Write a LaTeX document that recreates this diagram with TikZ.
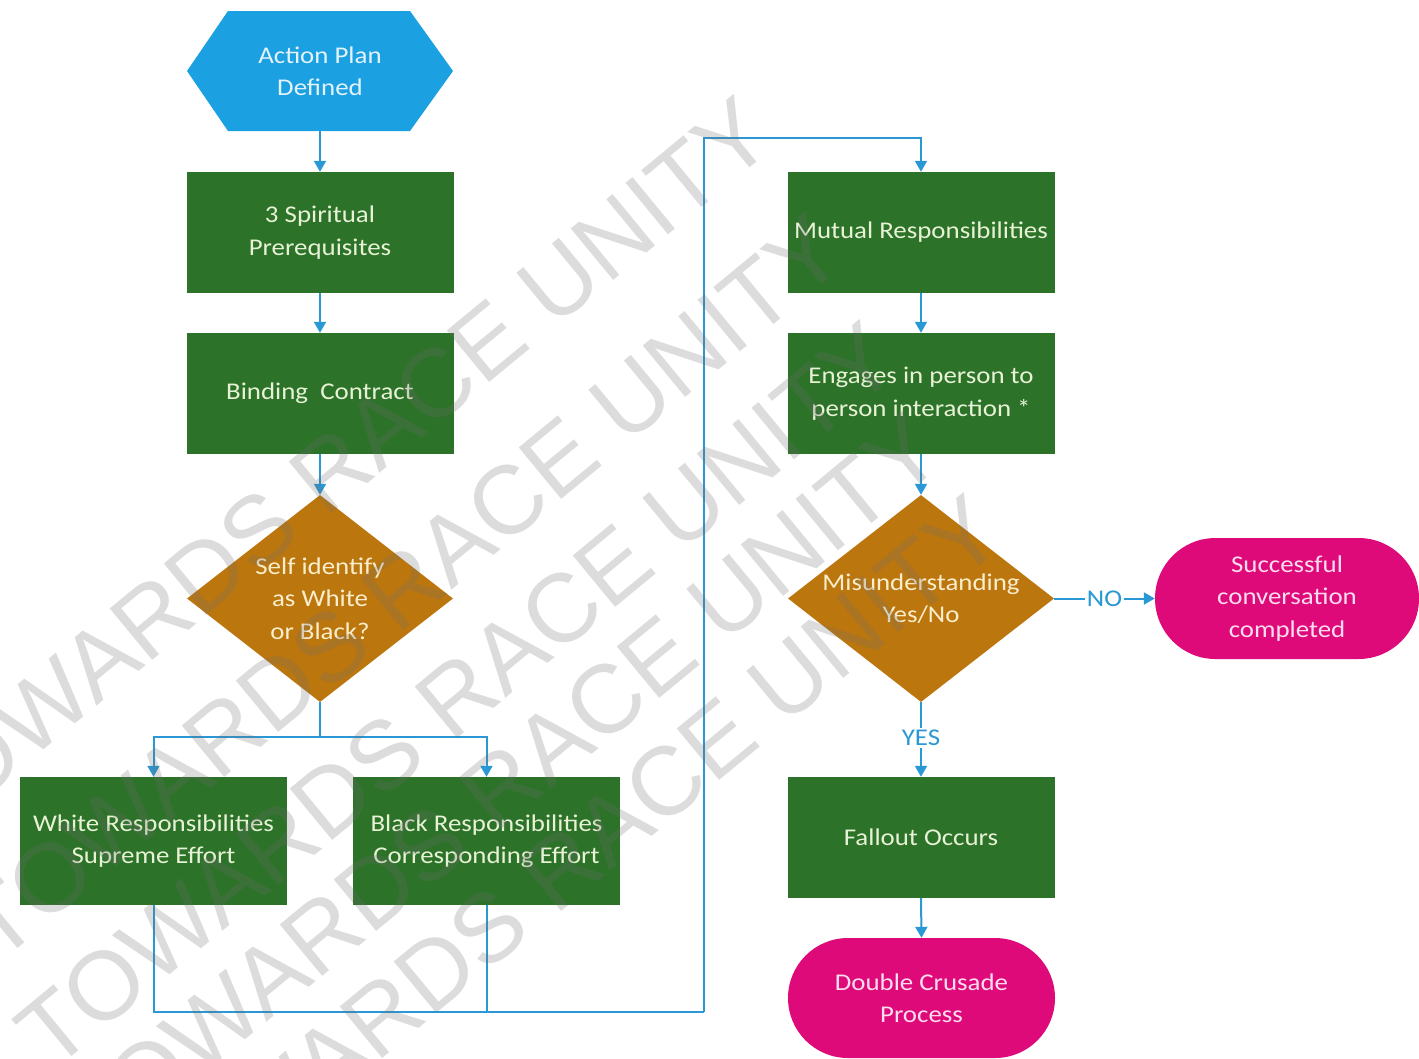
\documentclass[tikz,border=0pt]{standalone}
\usepackage{fontspec}
\setmainfont{Carlito}[FakeStretch=1.12]
\newfontfamily\wmfont{Liberation Sans}
\usetikzlibrary{shapes.geometric,shapes.misc,arrows.meta}
\definecolor{boxgreen}{RGB}{44,114,41}
\definecolor{decor}{RGB}{188,118,14}
\definecolor{hexblue}{RGB}{27,160,225}
\definecolor{pillcol}{RGB}{222,10,122}
\definecolor{conncol}{RGB}{42,152,212}
\definecolor{txtgreen}{RGB}{232,242,214}
\definecolor{txtdec}{RGB}{250,238,205}
\definecolor{txthex}{RGB}{228,242,252}
\definecolor{txtpill}{RGB}{252,220,238}
\definecolor{wmcol}{RGB}{110,110,110}
\begin{document}
\begin{tikzpicture}[x=1pt,y=-1pt,
  every node/.style={font=\fontsize{24}{32.5}\selectfont},
  proc/.style={rectangle, fill=boxgreen, minimum width=267pt, minimum height=121pt, inner sep=0pt, align=center, text=txtgreen},
  decshape/.style={diamond, fill=decor, minimum width=266pt, minimum height=207pt, inner sep=0pt},
  dectext/.style={align=center, text=txtdec, inner sep=0pt},
  term/.style={rounded rectangle, fill=pillcol, minimum width=264pt, minimum height=121pt, inner sep=0pt, align=center, text=txtpill},
  conn/.style={draw=conncol, line width=2pt},
  arr/.style={conn, -{Triangle[width=12pt,length=11pt]}},
  lbl/.style={text=conncol, fill=white, inner sep=2pt},
  wmark/.style={font=\wmfont\fontsize{97}{97}\selectfont, text=wmcol, text opacity=0.24, rotate=39.5, inner sep=0pt}
]
\useasboundingbox (0,0) rectangle (1419,1058);
\fill[white] (0,0) rectangle (1419,1058);

% start hexagon
\fill[hexblue] (187,71) -- (228,11) -- (410,11) -- (453,71) -- (410,131) -- (228,131) -- cycle;
\node[minimum width=266pt, minimum height=120pt, inner sep=0pt, align=center, text=txthex] (ap) at (320,71) {Action Plan\\Defined};

% left column
\node[proc] (sp) at (320,232.5) {3 Spiritual\\Prerequisites};
\node[proc] (bc) at (320,393.5) {Binding\ \ Contract};
\node[decshape] (d1) at (320,598.5) {};
\node[dectext] (d1t) at (d1.center) {Self identify\\as White\\or Black?};
\node[proc, minimum height=128pt] (wr) at (153.5,841) {White Responsibilities\\Supreme Effort};
\node[proc, minimum height=128pt] (br) at (486.5,841) {Black Responsibilities\\Corresponding Effort};

% right column
\node[proc] (mr) at (921,232.5) {Mutual Responsibilities};
\node[proc] (en) at (921,393.5) {Engages in person to\\person interaction *};
\node[decshape] (d2) at (921,598.5) {};
\node[dectext] (d2t) at (d2.center) {Misunderstanding\\Yes/No};
\node[proc] (fo) at (921,837.5) {Fallout Occurs};
\node[term] (sc) at (1287,598.5) {Successful\\conversation\\completed};
\node[term, minimum width=267pt, minimum height=120pt] (dc) at (921.5,998) {Double Crusade\\Process};

% connectors
\draw[arr] (ap.south) -- (sp.north);
\draw[arr] (sp.south) -- (bc.north);
\draw[arr] (bc.south) -- (d1.north);
\coordinate (j1) at (320,737);
\draw[conn] (d1.south) -- (j1);
\draw[arr] (j1) -| (wr.north);
\draw[arr] (j1) -| (br.north);
\coordinate (j2) at (704,1012);
\coordinate (j3) at (704,138);
\draw[conn] (wr.south) |- (j2);
\draw[conn] (br.south) -- (br.south |- j2);
\draw[arr] (j2) -- (j3) -| (mr.north);
\draw[arr] (mr.south) -- (en.north);
\draw[arr] (en.south) -- (d2.north);
\draw[arr] (d2.east) -- node[lbl] {NO} (sc.west);
\draw[arr] (d2.south) -- node[lbl, pos=0.48] {YES} (fo.north);
\draw[arr] (fo.south) -- (dc.north);

% watermark
\begin{scope}
\clip (0,0) rectangle (1419,1058);
\node[wmark] (wm1) at (331,470) {TOWARDS RACE UNITY};
\node[wmark] (wm2) at (403,587) {TOWARDS RACE UNITY};
\node[wmark] (wm3) at (457,695) {TOWARDS RACE UNITY};
\node[wmark] (wm4) at (501,786) {TOWARDS RACE UNITY};
\node[wmark] (wm5) at (561,868) {TOWARDS RACE UNITY};
\end{scope}
\end{tikzpicture}
\end{document}
